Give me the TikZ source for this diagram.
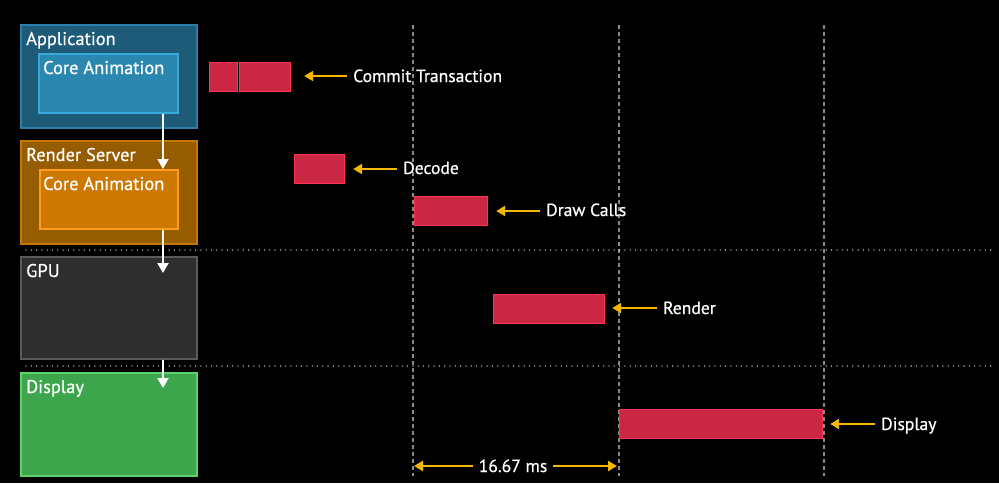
\documentclass[tikz,border=0pt]{standalone}
\usepackage{fontspec}
\setmainfont{PT Sans}[FakeBold=0.6]
\usetikzlibrary{arrows.meta}
\definecolor{appfill}{HTML}{1E5B78}
\definecolor{appline}{HTML}{2A80A8}
\definecolor{cafill}{HTML}{2A88B0}
\definecolor{caline}{HTML}{3AAADD}
\definecolor{rsfill}{HTML}{965C00}
\definecolor{rsline}{HTML}{C87800}
\definecolor{cbfill}{HTML}{CD7800}
\definecolor{cbline}{HTML}{FF9C20}
\definecolor{gpufill}{HTML}{2E2E2E}
\definecolor{gpuline}{HTML}{5A5A5A}
\definecolor{dispfill}{HTML}{3DA64D}
\definecolor{displine}{HTML}{5CD46C}
\definecolor{barfill}{HTML}{CC2645}
\definecolor{barline}{HTML}{FF3352}
\definecolor{ylw}{HTML}{F5B800}
\definecolor{gridgray}{HTML}{8A8A8A}
\begin{document}
\begin{tikzpicture}[x=1pt,y=-1pt,
  box/.style={draw, line width=1.6pt, anchor=north west, inner sep=0pt},
  bar/.style={box, fill=barfill, draw=barline, line width=1.2pt},
  lbl/.style={anchor=base west, text=white, font=\fontsize{18.4}{20}\selectfont, inner sep=0pt},
  tl/.style={anchor=base west, text=white, font=\fontsize{17.6}{20}\selectfont, inner sep=0pt},
  warrow/.style={white, line width=2pt, -{Triangle[length=10pt,width=11pt]}},
  yarrow/.style={ylw, line width=2.6pt, -{Triangle[length=9pt,width=10pt]}},
  vgrid/.style={gridgray, line width=1.2pt, dash pattern=on 4pt off 3pt},
  hgrid/.style={white, line width=1.3pt, line cap=round, dash pattern=on 0pt off 5.3pt}
]
\fill[black] (0,0) rectangle (999,483);
\useasboundingbox (0,0) rectangle (999,483);

% grid lines
\draw[vgrid] (413,25) -- (413,476);
\draw[vgrid] (619,25) -- (619,476);
\draw[vgrid] (824,25) -- (824,476);
\draw[hgrid] (26,250) -- (992,250);
\draw[hgrid] (26,366) -- (992,366);

% layer boxes
\node[box, fill=appfill, draw=appline, minimum width=176pt, minimum height=103pt] (app) at (20,24) {};
\node[box, fill=cafill, draw=caline, minimum width=139pt, minimum height=59pt] (ca1) at (38,53) {};
\node[box, fill=rsfill, draw=rsline, minimum width=176pt, minimum height=103pt] (rs) at (20,140) {};
\node[box, fill=cbfill, draw=cbline, minimum width=138pt, minimum height=59pt] (ca2) at (39,169) {};
\node[box, fill=gpufill, draw=gpuline, minimum width=176pt, minimum height=102pt] (gpu) at (20,256) {};
\node[box, fill=dispfill, draw=displine, minimum width=176pt, minimum height=103pt] (disp) at (20,372) {};

\node[lbl] (tapp) at (26,45) {Application};
\node[lbl] (tca1) at (43,74) {Core Animation};
\node[lbl] (trs) at (26,161) {Render Server};
\node[lbl] (tca2) at (43,190) {Core Animation};
\node[lbl] (tgpu) at (26,277) {GPU};
\node[lbl] (tdisp) at (26,393) {Display};

% white flow arrows
\coordinate (ax) at (163,0);
\coordinate (g1) at (163,273);
\coordinate (d1) at (163,388);
\draw[warrow] (ca1.south -| ax) -- (ca2.north -| ax);
\draw[warrow] (ca2.south -| ax) -- (g1);
\draw[warrow] (gpu.south -| ax) -- (d1);

% red bars
\node[bar, minimum width=28pt, minimum height=29pt] (c1) at (209,62) {};
\node[bar, minimum width=51pt, minimum height=29pt] (c2) at (239,62) {};
\node[bar, minimum width=50pt, minimum height=29pt] (dec) at (294,154) {};
\node[bar, minimum width=73pt, minimum height=29pt] (dc) at (414,196) {};
\node[bar, minimum width=111pt, minimum height=29pt] (ren) at (493,294) {};
\node[bar, minimum width=203pt, minimum height=29pt] (dsp) at (619,409) {};

% labels
\node[tl] (lc) at (353,82) {Commit Transaction};
\node[tl] (ld) at (403,174) {Decode};
\node[tl] (ldc) at (546,216) {Draw Calls};
\node[tl] (lr) at (663,314) {Render};
\node[tl] (lds) at (881,430) {Display};

\coordinate (yc) at (0,76);
\coordinate (yd) at (0,169);
\coordinate (ydc) at (0,211);
\coordinate (yr) at (0,308);
\coordinate (yds) at (0,424);
\draw[yarrow] ([xshift=-6pt]lc.west |- yc) -- ([xshift=13pt]c2.east |- yc);
\draw[yarrow] ([xshift=-6pt]ld.west |- yd) -- ([xshift=8pt]dec.east |- yd);
\draw[yarrow] ([xshift=-6pt]ldc.west |- ydc) -- ([xshift=8pt]dc.east |- ydc);
\draw[yarrow] ([xshift=-6pt]lr.west |- yr) -- ([xshift=7pt]ren.east |- yr);
\draw[yarrow] ([xshift=-6pt]lds.west |- yds) -- ([xshift=7pt]dsp.east |- yds);

% 16.67 ms
\node[anchor=base, text=white, font=\fontsize{17.6}{20}\selectfont, inner sep=0pt] (ms) at (513,472) {16.67 ms};
\coordinate (ym) at (0,466);
\coordinate (msl) at (414,466);
\coordinate (msr) at (617,466);
\draw[yarrow] ([xshift=-6pt]ms.west |- ym) -- (msl);
\draw[yarrow] ([xshift=6pt]ms.east |- ym) -- (msr);
\end{tikzpicture}
\end{document}
